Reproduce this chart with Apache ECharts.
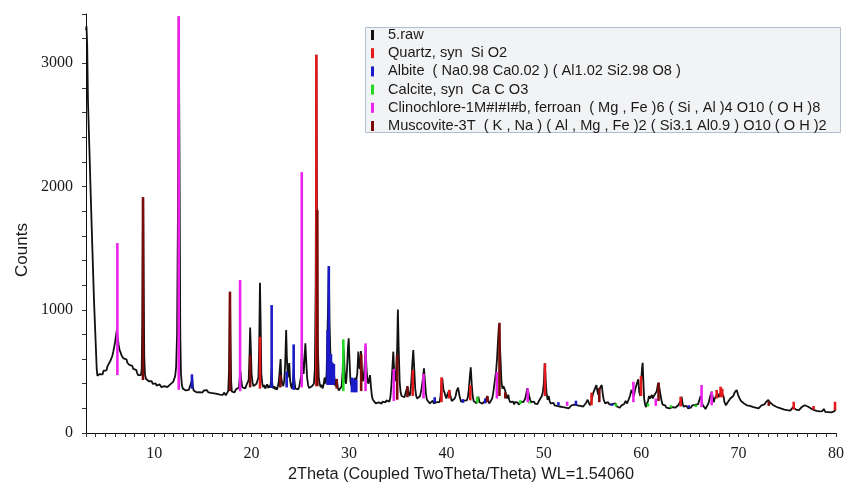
<!DOCTYPE html>
<html>
<head>
<meta charset="utf-8">
<script src="https://cdn.jsdelivr.net/npm/echarts@6/dist/echarts.min.js"></script>
<style>
html,body{margin:0;padding:0;background:#fff;}
#chart{width:859px;height:488px;}
</style>
</head>
<body>
<div id="chart"></div>
<script>
// ---- Data (2Theta, counts) ----
var xTicks = [10, 20, 30, 40, 50, 60, 70, 80];
var yTicks = [0, 1000, 2000, 3000];

var rawPattern = [
[3.00,3270],[3.05,3300],[3.12,3150],[3.2,2700],[3.35,2300],[3.5,1890],[3.66,1480],[3.82,1080],[3.98,760],[4.1,520],[4.17,465],[4.25,458],[4.32,472],
[4.4,478],[4.5,462],[4.6,490],[4.7,475],[4.8,505],[4.9,492],[5.0,520],[5.1,508],[5.2,540],[5.3,552],[5.4,545],[5.5,585],[5.6,600],[5.7,625],[5.8,660],[5.9,700],[6.0,745],[6.1,800],[6.18,840],[6.25,780],[6.35,715],[6.45,672],[6.55,655],[6.65,628],[6.75,635],[6.85,605],[6.95,612],[7.05,590],[7.15,598],[7.25,570],[7.35,578],[7.45,552],[7.55,560],[7.65,538],[7.75,545],[7.85,520],[7.95,530],[8.05,505],[8.15,512],[8.25,488],[8.35,470],[8.45,478],[8.55,455],[8.65,470],[8.72,520],[8.78,900],[8.83,1600],[8.87,1910],[8.92,1300],[8.98,620],[9.05,480],[9.15,440],
[9.25,432],[9.35,445],[9.45,420],[9.55,428],[9.65,410],[9.75,420],[9.85,398],[9.95,412],[10.05,395],[10.15,402],[10.25,385],[10.35,392],[10.45,378],[10.55,395],[10.65,380],[10.75,372],[10.85,388],[10.95,368],[11.05,380],[11.15,365],[11.25,378],[11.35,372],[11.45,388],[11.55,378],[11.65,395],[11.75,390],[11.85,405],[11.95,415],[12.05,430],[12.15,460],[12.25,530],[12.35,800],[12.45,1900],[12.52,3380],[12.6,2200],[12.68,800],[12.75,480],[12.85,385],[12.95,360],[13.05,352],[13.15,365],[13.25,345],[13.35,352],[13.45,338],[13.55,350],[13.65,340],[13.75,355],[13.85,420],[13.9,445],[13.97,380],[14.05,345],[14.15,335],[14.25,348],
[14.35,330],[14.5,345],[14.65,332],[14.8,340],[14.95,328],[15.1,345],[15.25,336],[15.4,348],[15.55,330],[15.7,338],[15.85,325],[16.0,340],[16.15,322],[16.3,335],[16.45,318],[16.6,330],[16.75,312],[16.9,325],[17.05,310],[17.2,328],[17.35,305],[17.5,320],[17.6,340],[17.68,500],[17.74,900],[17.78,1146],[17.83,800],[17.9,420],[17.98,335],[18.1,345],[18.25,330],[18.4,355],[18.55,340],[18.7,370],[18.8,460],[18.86,500],[18.95,420],[19.05,370],[19.2,385],[19.35,362],[19.5,395],[19.6,380],[19.7,430],[19.78,600],[19.85,855],[19.92,700],[20.0,480],[20.1,410],[20.2,380],[20.3,395],[20.4,372],[20.5,400],[20.6,390],[20.7,450],[20.78,700],[20.86,1219],[20.93,900],[21.0,480],[21.1,400],[21.2,372],[21.3,390],[21.4,360],[21.5,378],[21.6,395],[21.7,365],[21.8,385],[21.9,368],[22.0,420],[22.06,520],[22.12,400],[22.2,362],[22.3,380],[22.4,355],[22.5,372],[22.6,350],[22.7,380],[22.8,420],[22.9,520],[22.98,600],[23.05,450],[23.15,400],[23.25,380],[23.35,420],[23.45,560],[23.55,835],[23.62,620],[23.72,450],[23.8,520],[23.87,568],[23.95,430],[24.05,380],[24.15,360],[24.25,420],[24.32,520],[24.4,420],[24.5,360],[24.6,350],[24.7,372],[24.8,355],[24.9,380],[25.0,395],[25.1,470],[25.18,700],[25.25,520],[25.35,480],[25.45,620],[25.52,727],[25.6,600],[25.7,450],[25.8,390],[25.9,365],[26.0,372],[26.1,352],[26.2,380],[26.3,365],[26.4,400],[26.5,520],[26.58,1200],[26.65,3070],[26.72,1800],[26.8,700],[26.9,450],[27.0,395],[27.1,372],[27.2,390],[27.3,362],[27.4,395],[27.5,450],[27.6,400],[27.7,480],[27.8,835],[27.87,1100],[27.93,1354],[28.0,900],[28.1,620],[28.2,570],[28.3,560],[28.4,540],[28.5,450],[28.6,380],[28.7,420],[28.75,438],[28.85,370],[28.95,345],[29.05,360],[29.15,340],[29.25,380],[29.35,500],[29.42,700],[29.5,600],[29.6,420],[29.7,400],[29.8,520],[29.9,700],[29.97,768],[30.05,600],[30.15,420],[30.25,380],[30.35,420],[30.45,440],[30.55,400],[30.65,450],[30.75,430],[30.85,480],[30.96,660],[31.05,540],[31.12,520],[31.23,665],[31.32,520],[31.42,420],[31.52,450],[31.62,560],[31.7,700],[31.8,520],[31.9,420],[32.0,400],[32.08,440],
[32.16,470],[32.25,380],[32.35,300],[32.45,270],[32.55,255],[32.65,262],[32.75,240],[32.85,252],[32.95,235],[33.05,248],[33.15,232],[33.25,245],[33.35,238],[33.45,255],[33.55,240],[33.65,262],[33.75,248],[33.85,265],[33.95,250],[34.05,268],[34.15,255],[34.25,290],[34.35,380],[34.45,520],[34.55,660],[34.65,480],[34.75,420],[34.85,520],[34.95,700],[35.02,1003],[35.1,700],[35.2,420],[35.3,330],[35.4,300],[35.5,285],[35.6,300],[35.7,290],[35.8,320],[35.9,350],[36.0,380],[36.1,330],[36.2,300],[36.3,320],[36.4,420],[36.5,560],[36.6,673],[36.7,520],[36.8,360],[36.9,300],[37.0,280],[37.1,295],[37.2,270],[37.3,300],[37.45,360],[37.6,450],[37.7,524],[37.8,420],[37.9,320],[38.0,270],[38.1,255],[38.2,265],[38.3,240],[38.4,255],[38.5,238],[38.6,262],[38.7,240],[38.8,255],[38.9,235],[39.0,250],[39.1,240],[39.2,265],[39.3,250],[39.4,300],[39.5,400],[39.58,443],[39.7,350],[39.8,330],[39.9,300],[40.0,280],[40.1,310],[40.2,330],[40.3,349],[40.42,300],[40.55,260],[40.65,275],[40.75,252],[40.85,280],[40.95,300],[41.05,340],[41.2,368],[41.35,300],[41.5,255],[41.6,270],[41.7,245],[41.8,262],[41.9,250],[42.0,270],[42.1,265],[42.2,290],[42.3,350],[42.4,450],[42.5,533],[42.6,400],[42.7,300],[42.8,260],[42.9,245],[43.0,262],[43.1,240],[43.2,275],[43.28,294],[43.4,250],[43.5,235],[43.6,255],[43.7,238],[43.8,252],[43.9,240],[44.0,265],[44.1,280],[44.2,300],[44.3,260],[44.4,240],[44.5,255],[44.6,245],[44.7,280],[44.8,320],[44.9,380],[45.0,440],[45.1,500],[45.2,600],[45.3,750],[45.4,880],[45.48,895],[45.56,600],[45.65,420],[45.75,360],[45.85,380],[45.95,362],[46.05,340],[46.15,300],[46.25,280],[46.35,310],[46.45,270],[46.55,250],[46.65,262],[46.75,240],[46.85,255],[46.95,232],[47.05,250],[47.15,235],[47.3,248],[47.45,230],[47.6,255],[47.7,265],[47.8,240],[47.9,250],[48.0,262],[48.1,280],[48.2,320],[48.3,362],[48.4,340],[48.5,300],[48.6,270],[48.7,250],[48.8,262],[48.9,240],[49.0,255],[49.1,238],[49.2,250],[49.35,235],[49.5,260],[49.65,280],[49.8,300],[49.9,330],[50.0,400],[50.1,565],[50.2,420],[50.3,310],[50.4,270],[50.5,300],[50.6,260],[50.7,240],[50.8,255],[50.9,230],[51.0,245],[51.1,225],[51.2,240],[51.35,220],[51.5,235],[51.65,215],[51.8,228],[51.95,210],[52.1,222],[52.25,205],[52.4,218],[52.55,200],[52.7,215],[52.85,225],[53.0,210],[53.15,230],[53.3,245],[53.45,225],[53.6,240],[53.75,220],[53.9,235],[54.05,215],[54.2,230],[54.35,245],[54.5,270],[54.6,250],[54.75,225],[54.9,260],[55.0,300],[55.1,330],[55.25,360],[55.4,389],[55.5,340],[55.6,310],[55.7,350],[55.8,370],[55.95,389],[56.05,320],[56.15,270],[56.3,240],[56.45,225],[56.6,250],[56.75,230],[56.9,215],[57.05,235],[57.2,220],[57.35,240],[57.5,215],[57.65,228],[57.8,205],[57.95,222],[58.1,210],[58.25,235],[58.4,260],[58.55,240],[58.7,270],[58.85,300],[59.0,350],[59.1,330],[59.25,300],[59.4,360],[59.55,400],[59.7,435],[59.8,330],[59.9,300],[60.0,420],[60.08,520],[60.15,570],[60.22,430],[60.3,280],[60.4,230],[60.5,210],[60.6,240],[60.7,260],[60.8,300],[60.9,280],[61.0,290],[61.1,308],[61.2,280],[61.3,300],[61.45,290],[61.6,340],[61.7,390],[61.78,408],[61.9,350],[62.0,300],[62.1,260],[62.2,230],[62.3,215],[62.45,225],[62.6,205],[62.75,220],[62.9,200],[63.05,215],[63.2,210],[63.35,225],[63.5,205],[63.65,215],[63.8,225],[63.95,240],[64.05,260],[64.15,294],[64.25,240],[64.35,215],[64.5,205],[64.65,220],[64.8,200],[64.95,215],[65.1,205],[65.25,225],[65.4,210],[65.55,228],[65.7,212],[65.85,235],[66.0,250],[66.1,300],[66.2,270],[66.3,230],[66.45,215],[66.6,195],[66.75,210],[66.9,240],[67.0,270],[67.1,300],[67.24,335],[67.35,290],[67.45,250],[67.55,280],[67.7,300],[67.85,320],[67.95,290],[68.05,310],[68.2,330],[68.35,340],[68.45,300],[68.55,250],[68.7,225],[68.85,245],[69.0,260],[69.15,280],[69.3,270],[69.45,300],[69.6,330],[69.8,349],[69.95,310],[70.1,280],[70.25,260],[70.4,270],[70.55,240],[70.7,250],[70.85,225],[71.0,240],[71.15,220],[71.3,232],[71.45,212],[71.6,225],[71.75,205],[71.9,218],[72.05,200],[72.2,215],[72.35,225],[72.5,210],[72.65,232],[72.8,250],[72.95,262],[73.05,268],[73.2,250],[73.35,255],[73.5,230],[73.65,240],[73.8,215],[73.95,228],[74.1,205],[74.25,220],[74.4,198],[74.55,212],[74.7,190],[74.85,205],[75.0,185],[75.15,200],[75.3,182],[75.45,195],[75.6,210],[75.75,200],[75.9,190],[76.05,205],[76.2,185],[76.35,198],[76.5,212],[76.65,200],[76.8,225],[76.95,230],[77.1,215],[77.25,222],[77.4,200],[77.55,210],[77.7,188],[77.85,200],[78.0,180],[78.15,195],[78.3,175],[78.45,190],[78.6,178],[78.75,195],[78.9,172],[79.05,188],[79.2,170],[79.35,185],[79.5,168],[79.65,182],[79.8,175],[79.95,190]
];

// Phase reference sticks: [2Theta, base counts, top counts]
var quartzSticks = [
[20.86,360,781],[26.65,380,3070],[36.55,300,511],[39.5,250,452],[40.3,280,349],[42.45,265,389],[50.12,300,565],[54.9,225,327],[59.98,300,462],[64.05,215,294],[67.75,280,349],[68.15,290,376],[68.32,290,360],[75.66,190,254],[77.7,190,219],[79.9,185,254]
];
var albiteSticks = [
[13.88,360,476],[22.06,365,1038],[23.6,370,500],[24.32,350,719],[27.8,390,835],[27.93,390,1354],[28.15,390,640],[28.3,390,570],[28.45,390,560],[30.3,330,450],[30.55,330,440],[30.75,330,430],[38.8,245,290],[41.7,245,275],[44.0,240,280],[51.5,225,250],[53.3,225,262],[57.0,220,240],[64.9,205,225]
];
var calciteSticks = [
[29.42,340,760],[43.18,245,294],[47.6,235,265],[48.55,240,254],[57.4,215,240],[60.7,215,240],[63.05,205,225],[65.6,210,230]
];
var clinochloreSticks = [
[6.22,470,1541],[12.52,350,3382],[18.82,340,1241],[25.15,370,2117],[31.7,340,727],[34.6,260,520],[37.65,280,480],[45.18,280,497],[48.35,250,362],[52.4,220,255],[59.2,250,416],[61.5,220,280],[66.2,210,389],[67.24,225,335]
];
var muscoviteSticks = [
[8.85,430,1914],[17.78,340,1146],[19.85,370,632],[22.95,370,470],[26.75,380,1809],[28.74,360,438],[31.25,340,640],[34.95,270,633],[36.0,290,376],[44.2,250,300],[45.45,300,895],[46.05,280,330],[55.7,250,365],[61.78,260,408],[73.1,220,255]
];

var seriesNames = [
"5.raw",
"Quartz, syn  Si O2",
"Albite  ( Na0.98 Ca0.02 ) ( Al1.02 Si2.98 O8 )",
"Calcite, syn  Ca C O3",
"Clinochlore-1M#I#I#b, ferroan  ( Mg , Fe )6 ( Si , Al )4 O10 ( O H )8",
"Muscovite-3T  ( K , Na ) ( Al , Mg , Fe )2 ( Si3.1 Al0.9 ) O10 ( O H )2"
];
var seriesColors = ["#111111", "#e3191c", "#1a1ac8", "#22d822", "#ee22ee", "#7d0a0a"];

function stickSeries(name, color, data) {
  return {
    type: 'custom',
    name: name,
    z: 5,
    data: data,
    itemStyle: { color: color },
    encode: { x: 0, y: [1, 2] },
    renderItem: function (params, api) {
      var p0 = api.coord([api.value(0), api.value(1)]);
      var p1 = api.coord([api.value(0), api.value(2)]);
      return {
        type: 'line',
        shape: { x1: p0[0], y1: p0[1], x2: p1[0], y2: p1[1] },
        style: { stroke: color, lineWidth: 2.6 }
      };
    }
  };
}

var chart = echarts.init(document.getElementById('chart'));
var option = {
  animation: false,
  backgroundColor: '#ffffff',
  grid: { left: 86, right: 23, top: 14, bottom: 55, containLabel: false },
  xAxis: {
    type: 'value', min: 3, max: 80, interval: 1,
    name: '2Theta (Coupled TwoTheta/Theta) WL=1.54060',
    nameLocation: 'middle', nameGap: 33,
    nameTextStyle: { fontFamily: 'Liberation Sans', fontSize: 16.3, color: '#1a1a1a' },
    axisLine: { lineStyle: { color: '#111', width: 1 } },
    axisTick: { length: 4, lineStyle: { color: '#333' } },
    axisLabel: {
      margin: 13, fontFamily: 'Liberation Serif', fontSize: 16, color: '#1a1a1a',
      formatter: function (v) { return xTicks.indexOf(v) >= 0 ? String(v) : ''; }
    },
    splitLine: { show: false }
  },
  yAxis: {
    type: 'value', min: 0, max: 3400, interval: 200,
    axisLine: { show: true, lineStyle: { color: '#111', width: 1 } },
    axisTick: { show: true, length: 4, lineStyle: { color: '#333' } },
    axisLabel: {
      margin: 13, fontFamily: 'Liberation Serif', fontSize: 16, color: '#1a1a1a',
      formatter: function (v) { return yTicks.indexOf(v) >= 0 ? String(v) : ''; }
    },
    splitLine: { show: false }
  },
  legend: {
    orient: 'vertical', left: 371, top: 26, padding: 0,
    itemWidth: 3, itemHeight: 10, itemGap: 0.2,
    icon: 'rect', selectedMode: false,
    data: seriesNames,
    textStyle: { fontFamily: 'Liberation Sans', fontSize: 14.6, color: '#1a1a1a', lineHeight: 18, padding: [0, 0, 0, 9] }
  },
  graphic: [
    { type: 'rect', z: 3, shape: { x: 365.5, y: 27.5, width: 475, height: 105 },
      style: { fill: '#f2f3f5', stroke: '#b3c0cc', lineWidth: 1 } },
    { type: 'text', z: 3, x: 22, y: 250, rotation: Math.PI / 2,
      style: { text: 'Counts', fontFamily: 'Liberation Sans', fontSize: 17, fill: '#1a1a1a', textAlign: 'center', textVerticalAlign: 'middle' } }
  ],
  series: [
    {
      type: 'line', name: seriesNames[0], data: rawPattern, z: 2,
      showSymbol: false, symbol: 'none', smooth: false,
      itemStyle: { color: seriesColors[0] },
      lineStyle: { color: seriesColors[0], width: 1.8 }
    },
    stickSeries(seriesNames[1], seriesColors[1], quartzSticks),
    stickSeries(seriesNames[2], seriesColors[2], albiteSticks),
    stickSeries(seriesNames[3], seriesColors[3], calciteSticks),
    stickSeries(seriesNames[4], seriesColors[4], clinochloreSticks),
    stickSeries(seriesNames[5], seriesColors[5], muscoviteSticks)
  ]
};
chart.setOption(option);
</script>
</body>
</html>
